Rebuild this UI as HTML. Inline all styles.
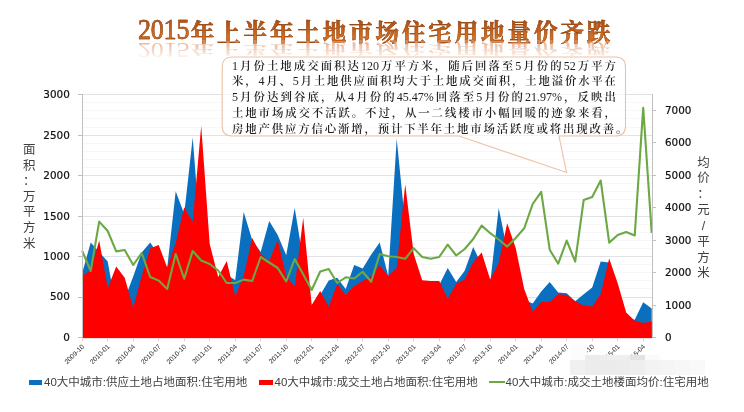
<!DOCTYPE html>
<html><head><meta charset="utf-8">
<style>
html,body{margin:0;padding:0;background:#fff;}
body{width:744px;height:412px;overflow:hidden;position:relative;}
#chart{position:absolute;left:0;top:0;}
.title{position:absolute;left:138px;top:16px;height:30px;white-space:nowrap;font-family:"Liberation Serif","Noto Serif CJK SC",serif;font-size:23.5px;line-height:30px;letter-spacing:2.9px;}
.title .t{display:block;position:relative;font-weight:700;}
.title .t .d, .title .t .c{background:linear-gradient(180deg,#a44c16 0%,#c45e18 40%,#d87020 65%,#ac5016 100%);-webkit-background-clip:text;background-clip:text;color:transparent;-webkit-text-stroke:0.45px #8e4412;}
.title .d{font-family:"Liberation Serif",serif;font-weight:normal;font-size:26px;letter-spacing:-0.2px;margin-right:0.5px;display:inline-block;transform:scaleY(1.13);transform-origin:0 22px;}
.title .c{display:inline-block;position:relative;top:1.5px;left:1px;}
.title .r{display:block;position:absolute;left:0;top:0;font-weight:700;transform-origin:0 25.5px;transform:scaleY(-0.68);color:#dc9870;opacity:0.75;-webkit-mask-image:linear-gradient(0deg,rgba(0,0,0,1) 15%,rgba(0,0,0,0.2) 90%);mask-image:linear-gradient(0deg,rgba(0,0,0,1) 15%,rgba(0,0,0,0.2) 90%);}
.box{position:absolute;left:232px;top:58.5px;width:384px;font-family:"Liberation Serif","Noto Serif CJK SC",serif;font-size:11.4px;font-weight:600;line-height:15.9px;color:#1e1e1e;}
.box div{white-space:nowrap;text-align:justify;text-align-last:justify;height:15.9px;}
.box .n{font-weight:normal;font-size:12px;}
.box div.last{text-align-last:left;letter-spacing:1.85px;}
.ytl{position:absolute;left:22.3px;top:143px;width:14px;font-family:"Liberation Sans","Noto Sans CJK SC",sans-serif;font-size:12.5px;line-height:15.6px;color:#404040;text-align:center;}
.ytr{position:absolute;left:696.5px;top:155.5px;width:14px;font-family:"Liberation Sans","Noto Sans CJK SC",sans-serif;font-size:12.5px;line-height:15.85px;color:#404040;text-align:center;}
.leg{position:absolute;top:374px;font-family:"Liberation Sans","Noto Sans CJK SC",sans-serif;font-size:11.5px;line-height:16px;color:#404040;white-space:nowrap;}
.sw{position:absolute;}
.mos{position:absolute;}
#mosw{position:absolute;left:0;top:0;width:744px;height:412px;filter:blur(0.7px);}
</style></head><body>
<svg id="chart" width="744" height="412" viewBox="0 0 744 412">
<g shape-rendering="crispEdges"><line x1="83" x2="652" y1="329.4" y2="329.4" stroke="#f8f7f8" stroke-width="1"/><line x1="83" x2="652" y1="321.3" y2="321.3" stroke="#f8f7f8" stroke-width="1"/><line x1="83" x2="652" y1="313.2" y2="313.2" stroke="#f8f7f8" stroke-width="1"/><line x1="83" x2="652" y1="305.1" y2="305.1" stroke="#f8f7f8" stroke-width="1"/><line x1="83" x2="652" y1="288.9" y2="288.9" stroke="#f8f7f8" stroke-width="1"/><line x1="83" x2="652" y1="280.8" y2="280.8" stroke="#f8f7f8" stroke-width="1"/><line x1="83" x2="652" y1="272.7" y2="272.7" stroke="#f8f7f8" stroke-width="1"/><line x1="83" x2="652" y1="264.6" y2="264.6" stroke="#f8f7f8" stroke-width="1"/><line x1="83" x2="652" y1="248.4" y2="248.4" stroke="#f8f7f8" stroke-width="1"/><line x1="83" x2="652" y1="240.3" y2="240.3" stroke="#f8f7f8" stroke-width="1"/><line x1="83" x2="652" y1="232.2" y2="232.2" stroke="#f8f7f8" stroke-width="1"/><line x1="83" x2="652" y1="224.1" y2="224.1" stroke="#f8f7f8" stroke-width="1"/><line x1="83" x2="652" y1="208.0" y2="208.0" stroke="#f8f7f8" stroke-width="1"/><line x1="83" x2="652" y1="199.9" y2="199.9" stroke="#f8f7f8" stroke-width="1"/><line x1="83" x2="652" y1="191.8" y2="191.8" stroke="#f8f7f8" stroke-width="1"/><line x1="83" x2="652" y1="183.7" y2="183.7" stroke="#f8f7f8" stroke-width="1"/><line x1="83" x2="652" y1="167.5" y2="167.5" stroke="#f8f7f8" stroke-width="1"/><line x1="83" x2="652" y1="159.4" y2="159.4" stroke="#f8f7f8" stroke-width="1"/><line x1="83" x2="652" y1="151.3" y2="151.3" stroke="#f8f7f8" stroke-width="1"/><line x1="83" x2="652" y1="143.2" y2="143.2" stroke="#f8f7f8" stroke-width="1"/><line x1="83" x2="652" y1="127.0" y2="127.0" stroke="#f8f7f8" stroke-width="1"/><line x1="83" x2="652" y1="118.9" y2="118.9" stroke="#f8f7f8" stroke-width="1"/><line x1="83" x2="652" y1="110.8" y2="110.8" stroke="#f8f7f8" stroke-width="1"/><line x1="83" x2="652" y1="102.7" y2="102.7" stroke="#f8f7f8" stroke-width="1"/><line x1="83" x2="652" y1="297.0" y2="297.0" stroke="#e2e2e6" stroke-width="1"/><line x1="83" x2="652" y1="256.5" y2="256.5" stroke="#e2e2e6" stroke-width="1"/><line x1="83" x2="652" y1="216.1" y2="216.1" stroke="#e2e2e6" stroke-width="1"/><line x1="83" x2="652" y1="175.6" y2="175.6" stroke="#e2e2e6" stroke-width="1"/><line x1="83" x2="652" y1="135.1" y2="135.1" stroke="#e2e2e6" stroke-width="1"/><line x1="83" x2="652" y1="94.6" y2="94.6" stroke="#e2e2e6" stroke-width="1"/></g>
<polygon points="82.2,337.5 82.2,273.0 90.7,242.6 99.2,252.0 107.7,261.5 116.2,309.0 124.7,299.0 133.2,276.4 141.7,252.5 150.2,242.6 158.7,255.0 167.2,268.0 175.7,191.3 184.2,214.0 192.7,137.6 201.2,247.0 209.7,270.0 218.2,285.0 226.7,275.0 235.2,280.0 243.7,212.0 252.2,240.0 260.7,252.0 269.2,221.0 277.7,235.0 286.2,255.3 294.7,208.0 303.2,260.0 311.7,310.0 320.2,295.0 328.7,280.5 337.2,277.8 345.7,289.0 354.2,265.0 362.7,268.5 371.2,254.5 379.7,242.5 388.2,276.0 396.7,138.7 405.2,224.0 413.7,275.0 422.2,285.0 430.7,285.0 439.2,285.0 447.7,268.0 456.2,282.0 464.7,270.7 473.2,247.0 481.7,265.0 490.2,283.0 498.7,208.1 507.2,250.0 515.7,260.0 524.2,300.0 532.7,303.5 541.2,291.6 549.7,282.0 558.2,292.5 566.7,293.3 575.2,301.2 583.7,294.2 592.2,287.5 600.7,261.5 609.2,262.5 617.7,290.0 626.2,318.0 634.7,319.8 643.2,302.3 651.7,308.5 651.7,337.5" fill="#0b6fbf"/>
<polygon points="82.2,337.5 82.2,276.0 90.7,270.0 99.2,240.5 107.7,288.3 116.2,266.5 124.7,277.8 133.2,307.7 141.7,276.0 150.2,248.3 158.7,245.0 167.2,267.5 175.7,243.0 184.2,207.3 192.7,222.0 201.2,125.8 209.7,244.0 218.2,277.0 226.7,261.0 235.2,296.2 243.7,276.0 252.2,238.0 260.7,254.0 269.2,261.0 277.7,240.0 286.2,276.0 294.7,286.6 303.2,217.7 311.7,305.0 320.2,291.0 328.7,306.7 337.2,284.0 345.7,295.0 354.2,286.0 362.7,281.0 371.2,276.2 379.7,265.2 388.2,276.2 396.7,268.0 405.2,184.2 413.7,254.0 422.2,280.3 430.7,280.9 439.2,280.9 447.7,298.7 456.2,283.8 464.7,279.5 473.2,262.0 481.7,252.6 490.2,279.5 498.7,263.0 507.2,223.2 515.7,248.0 524.2,289.0 532.7,311.7 541.2,302.0 549.7,302.0 558.2,294.2 566.7,295.1 575.2,301.2 583.7,305.6 592.2,306.6 600.7,294.0 609.2,258.5 617.7,283.2 626.2,312.6 634.7,320.7 643.2,323.0 651.7,321.5 651.7,337.5" fill="#ff0000"/>
<polyline points="82.2,250.8 90.7,271.0 99.2,221.6 107.7,231.0 116.2,251.4 124.7,250.0 133.2,265.0 141.7,253.0 150.2,277.0 158.7,280.6 167.2,289.0 175.7,254.0 184.2,278.7 192.7,251.0 201.2,260.5 209.7,264.0 218.2,270.5 226.7,283.0 235.2,283.0 243.7,279.6 252.2,281.0 260.7,257.0 269.2,262.5 277.7,268.0 286.2,281.5 294.7,259.0 303.2,274.2 311.7,290.0 320.2,271.5 328.7,269.0 337.2,283.0 345.7,277.3 354.2,278.5 362.7,271.8 371.2,281.8 379.7,254.0 388.2,256.2 396.7,257.0 405.2,258.8 413.7,248.2 422.2,257.0 430.7,258.8 439.2,257.0 447.7,244.7 456.2,255.5 464.7,249.0 473.2,239.0 481.7,225.6 490.2,233.2 498.7,239.5 507.2,246.6 515.7,238.0 524.2,228.3 532.7,204.0 541.2,191.8 549.7,249.7 558.2,263.7 566.7,240.6 575.2,261.6 583.7,200.0 592.2,197.0 600.7,180.5 609.2,242.6 617.7,235.0 626.2,232.0 634.7,235.5 643.2,107.7 651.7,232.9" fill="none" stroke="#6ca844" stroke-width="2.1" stroke-linejoin="round"/>
<g shape-rendering="crispEdges">
<line x1="82.5" x2="82.5" y1="94" y2="338" stroke="#bfbfbf" stroke-width="1"/>
<line x1="652" x2="652" y1="94" y2="338" stroke="#bfbfbf" stroke-width="1"/>
<line x1="82" x2="652" y1="337.5" y2="337.5" stroke="#c81818" stroke-width="1"/><line x1="82" x2="652" y1="338.5" y2="338.5" stroke="#f8dede" stroke-width="1"/>
<line x1="77.5" x2="82.5" y1="337.5" y2="337.5" stroke="#bfbfbf" stroke-width="1"/><line x1="77.5" x2="82.5" y1="297.0" y2="297.0" stroke="#bfbfbf" stroke-width="1"/><line x1="77.5" x2="82.5" y1="256.5" y2="256.5" stroke="#bfbfbf" stroke-width="1"/><line x1="77.5" x2="82.5" y1="216.1" y2="216.1" stroke="#bfbfbf" stroke-width="1"/><line x1="77.5" x2="82.5" y1="175.6" y2="175.6" stroke="#bfbfbf" stroke-width="1"/><line x1="77.5" x2="82.5" y1="135.1" y2="135.1" stroke="#bfbfbf" stroke-width="1"/><line x1="77.5" x2="82.5" y1="94.6" y2="94.6" stroke="#bfbfbf" stroke-width="1"/><line x1="652" x2="656" y1="337.5" y2="337.5" stroke="#bfbfbf" stroke-width="1"/><line x1="652" x2="656" y1="305.0" y2="305.0" stroke="#bfbfbf" stroke-width="1"/><line x1="652" x2="656" y1="272.6" y2="272.6" stroke="#bfbfbf" stroke-width="1"/><line x1="652" x2="656" y1="240.1" y2="240.1" stroke="#bfbfbf" stroke-width="1"/><line x1="652" x2="656" y1="207.6" y2="207.6" stroke="#bfbfbf" stroke-width="1"/><line x1="652" x2="656" y1="175.1" y2="175.1" stroke="#bfbfbf" stroke-width="1"/><line x1="652" x2="656" y1="142.7" y2="142.7" stroke="#bfbfbf" stroke-width="1"/><line x1="652" x2="656" y1="110.2" y2="110.2" stroke="#bfbfbf" stroke-width="1"/><line x1="82.2" x2="82.2" y1="337.5" y2="340.5" stroke="#f0c4c4" stroke-width="1"/><line x1="107.7" x2="107.7" y1="337.5" y2="340.5" stroke="#f0c4c4" stroke-width="1"/><line x1="133.2" x2="133.2" y1="337.5" y2="340.5" stroke="#f0c4c4" stroke-width="1"/><line x1="158.7" x2="158.7" y1="337.5" y2="340.5" stroke="#f0c4c4" stroke-width="1"/><line x1="184.2" x2="184.2" y1="337.5" y2="340.5" stroke="#f0c4c4" stroke-width="1"/><line x1="209.7" x2="209.7" y1="337.5" y2="340.5" stroke="#f0c4c4" stroke-width="1"/><line x1="235.2" x2="235.2" y1="337.5" y2="340.5" stroke="#f0c4c4" stroke-width="1"/><line x1="260.7" x2="260.7" y1="337.5" y2="340.5" stroke="#f0c4c4" stroke-width="1"/><line x1="286.2" x2="286.2" y1="337.5" y2="340.5" stroke="#f0c4c4" stroke-width="1"/><line x1="311.7" x2="311.7" y1="337.5" y2="340.5" stroke="#f0c4c4" stroke-width="1"/><line x1="337.2" x2="337.2" y1="337.5" y2="340.5" stroke="#f0c4c4" stroke-width="1"/><line x1="362.7" x2="362.7" y1="337.5" y2="340.5" stroke="#f0c4c4" stroke-width="1"/><line x1="388.2" x2="388.2" y1="337.5" y2="340.5" stroke="#f0c4c4" stroke-width="1"/><line x1="413.7" x2="413.7" y1="337.5" y2="340.5" stroke="#f0c4c4" stroke-width="1"/><line x1="439.2" x2="439.2" y1="337.5" y2="340.5" stroke="#f0c4c4" stroke-width="1"/><line x1="464.7" x2="464.7" y1="337.5" y2="340.5" stroke="#f0c4c4" stroke-width="1"/><line x1="490.2" x2="490.2" y1="337.5" y2="340.5" stroke="#f0c4c4" stroke-width="1"/><line x1="515.7" x2="515.7" y1="337.5" y2="340.5" stroke="#f0c4c4" stroke-width="1"/><line x1="541.2" x2="541.2" y1="337.5" y2="340.5" stroke="#f0c4c4" stroke-width="1"/><line x1="566.7" x2="566.7" y1="337.5" y2="340.5" stroke="#f0c4c4" stroke-width="1"/><line x1="592.2" x2="592.2" y1="337.5" y2="340.5" stroke="#f0c4c4" stroke-width="1"/><line x1="617.7" x2="617.7" y1="337.5" y2="340.5" stroke="#f0c4c4" stroke-width="1"/><line x1="643.2" x2="643.2" y1="337.5" y2="340.5" stroke="#f0c4c4" stroke-width="1"/>
</g>
<g font-family="DejaVu Sans, sans-serif" font-size="10.4" fill="#111" stroke="#111" stroke-width="0.2"><text x="69.8" y="340.9" text-anchor="end">0</text><text x="69.8" y="300.4" text-anchor="end">500</text><text x="69.8" y="259.9" text-anchor="end">1000</text><text x="69.8" y="219.5" text-anchor="end">1500</text><text x="69.8" y="179.0" text-anchor="end">2000</text><text x="69.8" y="138.5" text-anchor="end">2500</text><text x="69.8" y="98.0" text-anchor="end">3000</text><text x="665" y="341.1">0</text><text x="665" y="308.6">1000</text><text x="665" y="276.2">2000</text><text x="665" y="243.7">3000</text><text x="665" y="211.2">4000</text><text x="665" y="178.7">5000</text><text x="665" y="146.3">6000</text><text x="665" y="113.8">7000</text></g>
<g font-family="Liberation Sans, sans-serif" font-size="6.7" fill="#262626"><text transform="translate(84.6,347.1) rotate(-45)" text-anchor="end">2009-10</text><text transform="translate(110.1,347.1) rotate(-45)" text-anchor="end">2010-01</text><text transform="translate(135.6,347.1) rotate(-45)" text-anchor="end">2010-04</text><text transform="translate(161.1,347.1) rotate(-45)" text-anchor="end">2010-07</text><text transform="translate(186.6,347.1) rotate(-45)" text-anchor="end">2010-10</text><text transform="translate(212.1,347.1) rotate(-45)" text-anchor="end">2011-01</text><text transform="translate(237.6,347.1) rotate(-45)" text-anchor="end">2011-04</text><text transform="translate(263.1,347.1) rotate(-45)" text-anchor="end">2011-07</text><text transform="translate(288.6,347.1) rotate(-45)" text-anchor="end">2011-10</text><text transform="translate(314.1,347.1) rotate(-45)" text-anchor="end">2012-01</text><text transform="translate(339.6,347.1) rotate(-45)" text-anchor="end">2012-04</text><text transform="translate(365.1,347.1) rotate(-45)" text-anchor="end">2012-07</text><text transform="translate(390.6,347.1) rotate(-45)" text-anchor="end">2012-10</text><text transform="translate(416.1,347.1) rotate(-45)" text-anchor="end">2013-01</text><text transform="translate(441.6,347.1) rotate(-45)" text-anchor="end">2013-04</text><text transform="translate(467.1,347.1) rotate(-45)" text-anchor="end">2013-07</text><text transform="translate(492.6,347.1) rotate(-45)" text-anchor="end">2013-10</text><text transform="translate(518.1,347.1) rotate(-45)" text-anchor="end">2014-01</text><text transform="translate(543.6,347.1) rotate(-45)" text-anchor="end">2014-04</text><text transform="translate(569.1,347.1) rotate(-45)" text-anchor="end">2014-07</text><text transform="translate(594.6,347.1) rotate(-45)" text-anchor="end">2014-10</text><text transform="translate(620.1,347.1) rotate(-45)" text-anchor="end">2015-01</text><text transform="translate(645.6,347.1) rotate(-45)" text-anchor="end">2015-04</text></g>
<path d="M232,57 H615.5 Q625.5,57 625.5,67 V126 Q625.5,136 615.5,136 H559 L566.5,172.5 L459,136 H232 Q222.2,136 222.2,126 V67 Q222.2,57 232,57 Z" fill="rgba(255,255,255,0.6)" stroke="#ecc2a6" stroke-width="1.1"/>
</svg>
<div class="title"><span class="t"><span class="d">2015</span><span class="c">年上半年土地市场住宅用地量价齐跌</span></span><span class="r"><span class="d">2015</span><span class="c">年上半年土地市场住宅用地量价齐跌</span></span></div>
<div class="box"><div><span class="n">1</span>月份土地成交面积达<span class="n">120</span>万平方米，随后回落至<span class="n">5</span>月份的<span class="n">52</span>万平方</div><div>米，<span class="n">4</span>月、<span class="n">5</span>月土地供应面积均大于土地成交面积，土地溢价水平在</div><div><span class="n">5</span>月份达到谷底，从<span class="n">4</span>月份的<span class="n">45.47%</span>回落至<span class="n">5</span>月份的<span class="n">21.97%</span>，反映出</div><div>土地市场成交不活跃。不过，从一二线楼市小幅回暖的迹象来看，</div><div class="last">房地产供应方信心渐增，预计下半年土地市场活跃度或将出现改善。</div></div>
<div class="ytl">面<br>积<br>：<br>万<br>平<br>方<br>米</div>
<div class="ytr">均<br>价<br>：<br>元<br>/<br>平<br>方<br>米</div>
<div class="sw" style="left:29px;top:379.5px;width:13px;height:5.5px;background:#0b6fbf"></div>
<div class="leg" style="left:44px">40大中城市:供应土地占地面积:住宅用地</div>
<div class="sw" style="left:259px;top:379.5px;width:14px;height:5.5px;background:#ff0000"></div>
<div class="leg" style="left:274.5px">40大中城市:成交土地占地面积:住宅用地</div>
<div class="sw" style="left:489px;top:380.8px;width:16px;height:2.2px;background:#6ca844"></div>
<div class="leg" style="left:505.5px">40大中城市:成交土地楼面均价:住宅用地</div>
<div id="mosw"><div class="mos" style="left:570.2px;top:343px;width:17.3px;height:17px;background:#fcfcfc"></div>
<div class="mos" style="left:570.2px;top:360px;width:15px;height:14.5px;background:#f0f0f0"></div>
<div class="mos" style="left:585.2px;top:354.8px;width:15px;height:5.2px;background:#ebebeb"></div>
<div class="mos" style="left:585.2px;top:360px;width:15px;height:14.5px;background:#ececec"></div>
<div class="mos" style="left:600.2px;top:354.8px;width:15px;height:5.2px;background:#eeeeee"></div>
<div class="mos" style="left:600.2px;top:360px;width:15px;height:14.5px;background:#ebebeb"></div>
<div class="mos" style="left:615.2px;top:354.8px;width:15px;height:5.2px;background:#efefef"></div>
<div class="mos" style="left:615.2px;top:360px;width:15px;height:14.5px;background:#ececec"></div>
<div class="mos" style="left:630.2px;top:354.8px;width:15px;height:5.2px;background:#e3e3e3"></div>
<div class="mos" style="left:630.2px;top:360px;width:15px;height:14.5px;background:#eeeeee"></div>
<div class="mos" style="left:645.2px;top:354.8px;width:15px;height:5.2px;background:#fafafa"></div>
<div class="mos" style="left:645.2px;top:360px;width:15px;height:14.5px;background:#f3f3f3"></div>
<div class="mos" style="left:660.2px;top:360px;width:15px;height:14.5px;background:#f5f5f5"></div>
<div class="mos" style="left:675.2px;top:360px;width:15px;height:14.5px;background:#f7f7f7"></div>
<div class="mos" style="left:690.2px;top:360px;width:15px;height:14.5px;background:#f9f9f9"></div></div>
</body></html>
